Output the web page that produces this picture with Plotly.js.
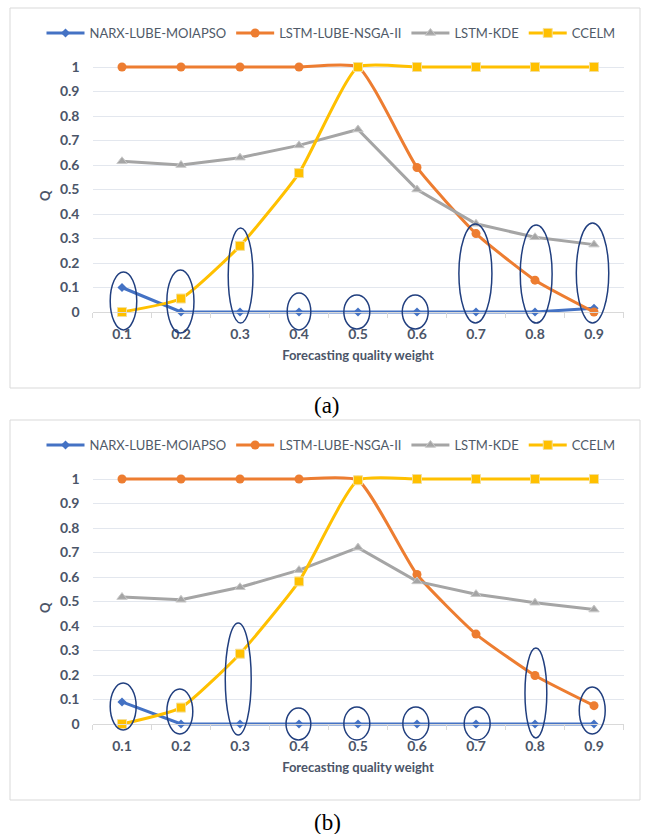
<!DOCTYPE html>
<html>
<head>
<meta charset="utf-8">
<script src="https://cdn.plot.ly/plotly-3.0.1.min.js"></script>
<style>html,body{margin:0;padding:0;background:#fff;}#chart{width:646px;height:834px;}</style>
</head>
<body>
<div id="chart"></div>
<script>
// ---- data ----
const weights = [0.1, 0.2, 0.3, 0.4, 0.5, 0.6, 0.7, 0.8, 0.9];
const weightLabels = ["0.1","0.2","0.3","0.4","0.5","0.6","0.7","0.8","0.9"];
const qTicks = [0, 0.1, 0.2, 0.3, 0.4, 0.5, 0.6, 0.7, 0.8, 0.9, 1];
const qTickLabels = ["0","0.1","0.2","0.3","0.4","0.5","0.6","0.7","0.8","0.9","1"];
const seriesNames = ["NARX-LUBE-MOIAPSO", "LSTM-LUBE-NSGA-II", "LSTM-KDE", "CCELM"];

// panel (a)
const narxA  = [0.10, 0, 0, 0, 0, 0, 0, 0, 0.015];
const nsgaA  = [1, 1, 1, 1, 1, 0.59, 0.32, 0.13, 0];
const kdeA   = [0.615, 0.60, 0.63, 0.68, 0.745, 0.50, 0.36, 0.305, 0.275];
const ccelmA = [0, 0.055, 0.27, 0.567, 1, 1, 1, 1, 1];

// panel (b)
const narxB  = [0.09, 0, 0, 0, 0, 0, 0, 0, 0];
const nsgaB  = [1, 1, 1, 1, 0.995, 0.61, 0.367, 0.198, 0.075];
const kdeB   = [0.518, 0.507, 0.558, 0.628, 0.72, 0.582, 0.53, 0.495, 0.467];
const ccelmB = [0, 0.067, 0.287, 0.582, 0.995, 1, 1, 1, 1];

// highlight ellipses: [x0, x1, y0, y1] in data units
const ellipsesA = [
  [0.080, 0.125, -0.073, 0.163],
  [0.176, 0.222, -0.086, 0.171],
  [0.280, 0.322, -0.045, 0.343],
  [0.380, 0.420, -0.073, 0.078],
  [0.476, 0.520, -0.069, 0.069],
  [0.575, 0.619, -0.069, 0.069],
  [0.671, 0.727, -0.045, 0.359],
  [0.775, 0.829, -0.045, 0.355],
  [0.870, 0.925, -0.045, 0.363]
];
const ellipsesB = [
  [0.080, 0.124, -0.024, 0.167],
  [0.176, 0.220, -0.041, 0.143],
  [0.275, 0.319, -0.045, 0.412],
  [0.378, 0.420, -0.065, 0.065],
  [0.476, 0.520, -0.065, 0.069],
  [0.576, 0.620, -0.065, 0.069],
  [0.680, 0.724, -0.065, 0.069],
  [0.783, 0.820, -0.057, 0.310],
  [0.875, 0.919, -0.041, 0.151]
];

// ---- styles ----
const colors = ["#4472C4", "#ED7D31", "#A5A5A5", "#FFC000"];
const markers = [
  {symbol: "diamond", size: 7, color: colors[0]},
  {symbol: "circle", size: 9, color: colors[1]},
  {symbol: "triangle-up", size: 9, color: colors[2], line: {color: "#C9C9C9", width: 1}},
  {symbol: "square", size: 9, color: colors[3], line: {color: "#F4DF9A", width: 1}}
];
const shapesLine = ["linear", "spline", "linear", "spline"];
const txt = "#4B5568";
const fontFam = "Lato, 'Open Sans', sans-serif";

function makeTraces(data, xa, ya, leg) {
  return data.map((vals, i) => ({
    type: "scatter", mode: "lines+markers",
    x: weights, y: vals, name: seriesNames[i],
    xaxis: xa, yaxis: ya, legend: leg,
    line: {color: colors[i], width: 3, shape: shapesLine[i], smoothing: 0.5},
    marker: markers[i], cliponaxis: false
  }));
}

const traces = [
  ...makeTraces([narxA, nsgaA, kdeA, ccelmA], "x", "y", "legend"),
  ...makeTraces([narxB, nsgaB, kdeB, ccelmB], "x2", "y2", "legend2")
];

const H = 834, W = 646;
const py = p => 1 - p / H;
const px = p => p / W;
const yTop = 1.05;          // headroom above 1 so flat lines at 1 are not clipped
const unit = 245;           // px per 1.0 on the Q axis

function xAxis(pos) {
  return {
    domain: [px(92.5), px(623.5)], range: [0.05, 0.95],
    anchor: "free", position: pos,
    tickvals: weights, ticktext: weightLabels, ticks: "",
    showgrid: false, zeroline: false,
    showline: true, linecolor: "#D9D9D9", linewidth: 1,
    minor: {tick0: 0.05, dtick: 0.1, ticks: "outside", ticklen: 5, tickcolor: "#D9D9D9", showgrid: false},
    tickfont: {family: fontFam, size: 14, color: txt, weight: "bold"},
    ticklabelstandoff: 9,
    title: {text: "Forecasting quality weight", font: {family: fontFam, size: 13, color: txt, weight: "bold"}, standoff: 10},
    fixedrange: true
  };
}
function yAxis(zeroPx, xa) {
  return {
    domain: [py(zeroPx + 0.1 * unit), py(zeroPx - yTop * unit)], range: [-0.1, yTop], anchor: xa,
    tickvals: qTicks, ticktext: qTickLabels, ticks: "",
    showgrid: true, gridcolor: "#E3E7EE", gridwidth: 1, zeroline: false, showline: false,
    tickfont: {family: fontFam, size: 14, color: txt, weight: "bold"},
    ticklabelstandoff: 12,
    title: {text: "Q", font: {family: fontFam, size: 13, color: txt, weight: "bold"}, standoff: 6},
    fixedrange: true
  };
}

function ellShapes(list, xr, yr) {
  return list.map(e => ({
    type: "circle", xref: xr, yref: yr, x0: e[0], x1: e[1], y0: e[2], y1: e[3],
    line: {color: "#213F7F", width: 1.5}, fillcolor: "rgba(0,0,0,0)", layer: "above"
  }));
}

const legendCommon = {
  orientation: "h", xanchor: "center", yanchor: "middle", x: px(331),
  font: {family: fontFam, size: 13, color: "#505A68"}, itemwidth: 38,
  bgcolor: "rgba(0,0,0,0)", tracegroupgap: 0, traceorder: "normal"
};

const layout = {
  width: W, height: H, margin: {l: 0, r: 0, t: 0, b: 0},
  paper_bgcolor: "#fff", plot_bgcolor: "rgba(0,0,0,0)",
  showlegend: true,
  xaxis: xAxis(py(312)),
  yaxis: yAxis(312, "x"),
  xaxis2: xAxis(py(724)),
  yaxis2: yAxis(724, "x2"),
  legend: Object.assign({}, legendCommon, {y: py(33)}),
  legend2: Object.assign({}, legendCommon, {y: py(445)}),
  shapes: [
    {type: "rect", xref: "paper", yref: "paper", x0: px(10), x1: px(640), y0: py(388), y1: py(8), line: {color: "#D9D9D9", width: 1}, layer: "below"},
    {type: "rect", xref: "paper", yref: "paper", x0: px(10), x1: px(640), y0: py(800), y1: py(420), line: {color: "#D9D9D9", width: 1}, layer: "below"},
    ...ellShapes(ellipsesA, "x", "y"),
    ...ellShapes(ellipsesB, "x2", "y2")
  ],
  annotations: [
    {text: "(a)", xref: "paper", yref: "paper", x: px(327), y: py(405), xanchor: "center", yanchor: "middle", showarrow: false, font: {family: "'Liberation Serif', 'Times New Roman', serif", size: 23, color: "#000"}},
    {text: "(b)", xref: "paper", yref: "paper", x: px(327), y: py(822), xanchor: "center", yanchor: "middle", showarrow: false, font: {family: "'Liberation Serif', 'Times New Roman', serif", size: 23, color: "#000"}}
  ]
};

Plotly.newPlot("chart", traces, layout, {staticPlot: true, displayModeBar: false});
</script>
</body>
</html>
